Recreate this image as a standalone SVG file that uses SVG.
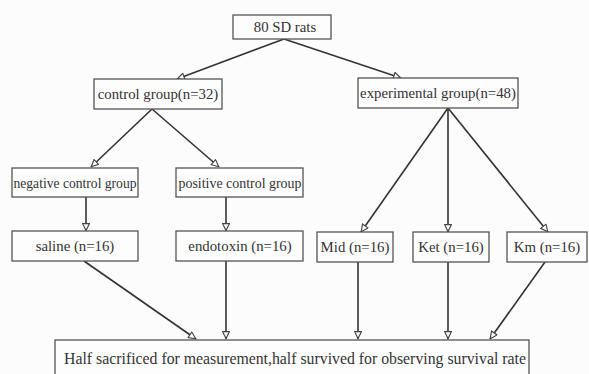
<svg xmlns="http://www.w3.org/2000/svg" width="589" height="374" viewBox="0 0 589 374">
<defs>
<marker id="arr" viewBox="0 0 10 10" refX="10" refY="5" markerWidth="9" markerHeight="8" markerUnits="userSpaceOnUse" orient="auto">
<path d="M0.8,0.8 L9.5,5 L0.8,9.2 Z" fill="#fdfdfd" stroke="#444" stroke-width="1.4"/>
</marker>
<style>
.box{fill:#fdfdfd;stroke:#555;stroke-width:1.3}
.t{font-family:"Liberation Serif","Times New Roman",serif;font-size:14.8px;fill:#333;text-anchor:middle;dominant-baseline:central}
.c{stroke:#333;stroke-width:1.6;fill:none;marker-end:url(#arr)}
</style>
</defs>
<rect width="589" height="374" fill="#fcfcfc"/>
<g id="connectors">
<line class="c" x1="284" y1="39" x2="177" y2="79"/>
<line class="c" x1="284" y1="39" x2="401" y2="78"/>
<line class="c" x1="152" y1="109" x2="91" y2="167"/>
<line class="c" x1="152" y1="109" x2="219" y2="167"/>
<line class="c" x1="86" y1="197" x2="86" y2="231"/>
<line class="c" x1="226" y1="197" x2="226" y2="231"/>
<line class="c" x1="448" y1="108" x2="361" y2="232"/>
<line class="c" x1="448" y1="108" x2="448" y2="232"/>
<line class="c" x1="448" y1="108" x2="548" y2="232"/>
<line class="c" x1="84" y1="261" x2="196" y2="339"/>
<line class="c" x1="226" y1="261" x2="226" y2="339"/>
<line class="c" x1="358" y1="262" x2="358" y2="339"/>
<line class="c" x1="448" y1="262" x2="448" y2="339"/>
<line class="c" x1="545" y1="262" x2="490" y2="339"/>
</g>
<g id="n_rats"><rect class="box" x="233" y="15" width="98" height="24"/><text class="t" x="285" y="27">80 SD rats</text></g>
<g id="n_control"><rect class="box" x="94" y="79" width="128" height="30"/><text class="t" x="158" y="94">control group(n=32)</text></g>
<g id="n_exp"><rect class="box" x="358" y="78" width="160" height="30"/><text class="t" x="438" y="93">experimental group(n=48)</text></g>
<g id="n_neg"><rect class="box" x="12" y="168" width="126" height="29"/><text class="t" x="75" y="182.5" textLength="123" lengthAdjust="spacingAndGlyphs">negative control group</text></g>
<g id="n_pos"><rect class="box" x="176" y="168" width="127" height="29"/><text class="t" x="240" y="182.5" textLength="123" lengthAdjust="spacingAndGlyphs">positive control group</text></g>
<g id="n_saline"><rect class="box" x="12" y="231" width="126" height="30"/><text class="t" x="75" y="246">saline (n=16)</text></g>
<g id="n_endo"><rect class="box" x="176" y="231" width="127" height="30"/><text class="t" x="240" y="246">endotoxin (n=16)</text></g>
<g id="n_mid"><rect class="box" x="317" y="232" width="76" height="30"/><text class="t" x="355" y="247">Mid (n=16)</text></g>
<g id="n_ket"><rect class="box" x="413" y="232" width="76" height="30"/><text class="t" x="451" y="247">Ket (n=16)</text></g>
<g id="n_km"><rect class="box" x="507" y="232" width="80" height="30"/><text class="t" x="547" y="247">Km (n=16)</text></g>
<g id="n_half"><rect class="box" x="55" y="340" width="474" height="40"/><text class="t" x="295" y="358" style="font-size:15.8px">Half sacrificed for measurement,half survived for observing survival rate</text></g>
</svg>
